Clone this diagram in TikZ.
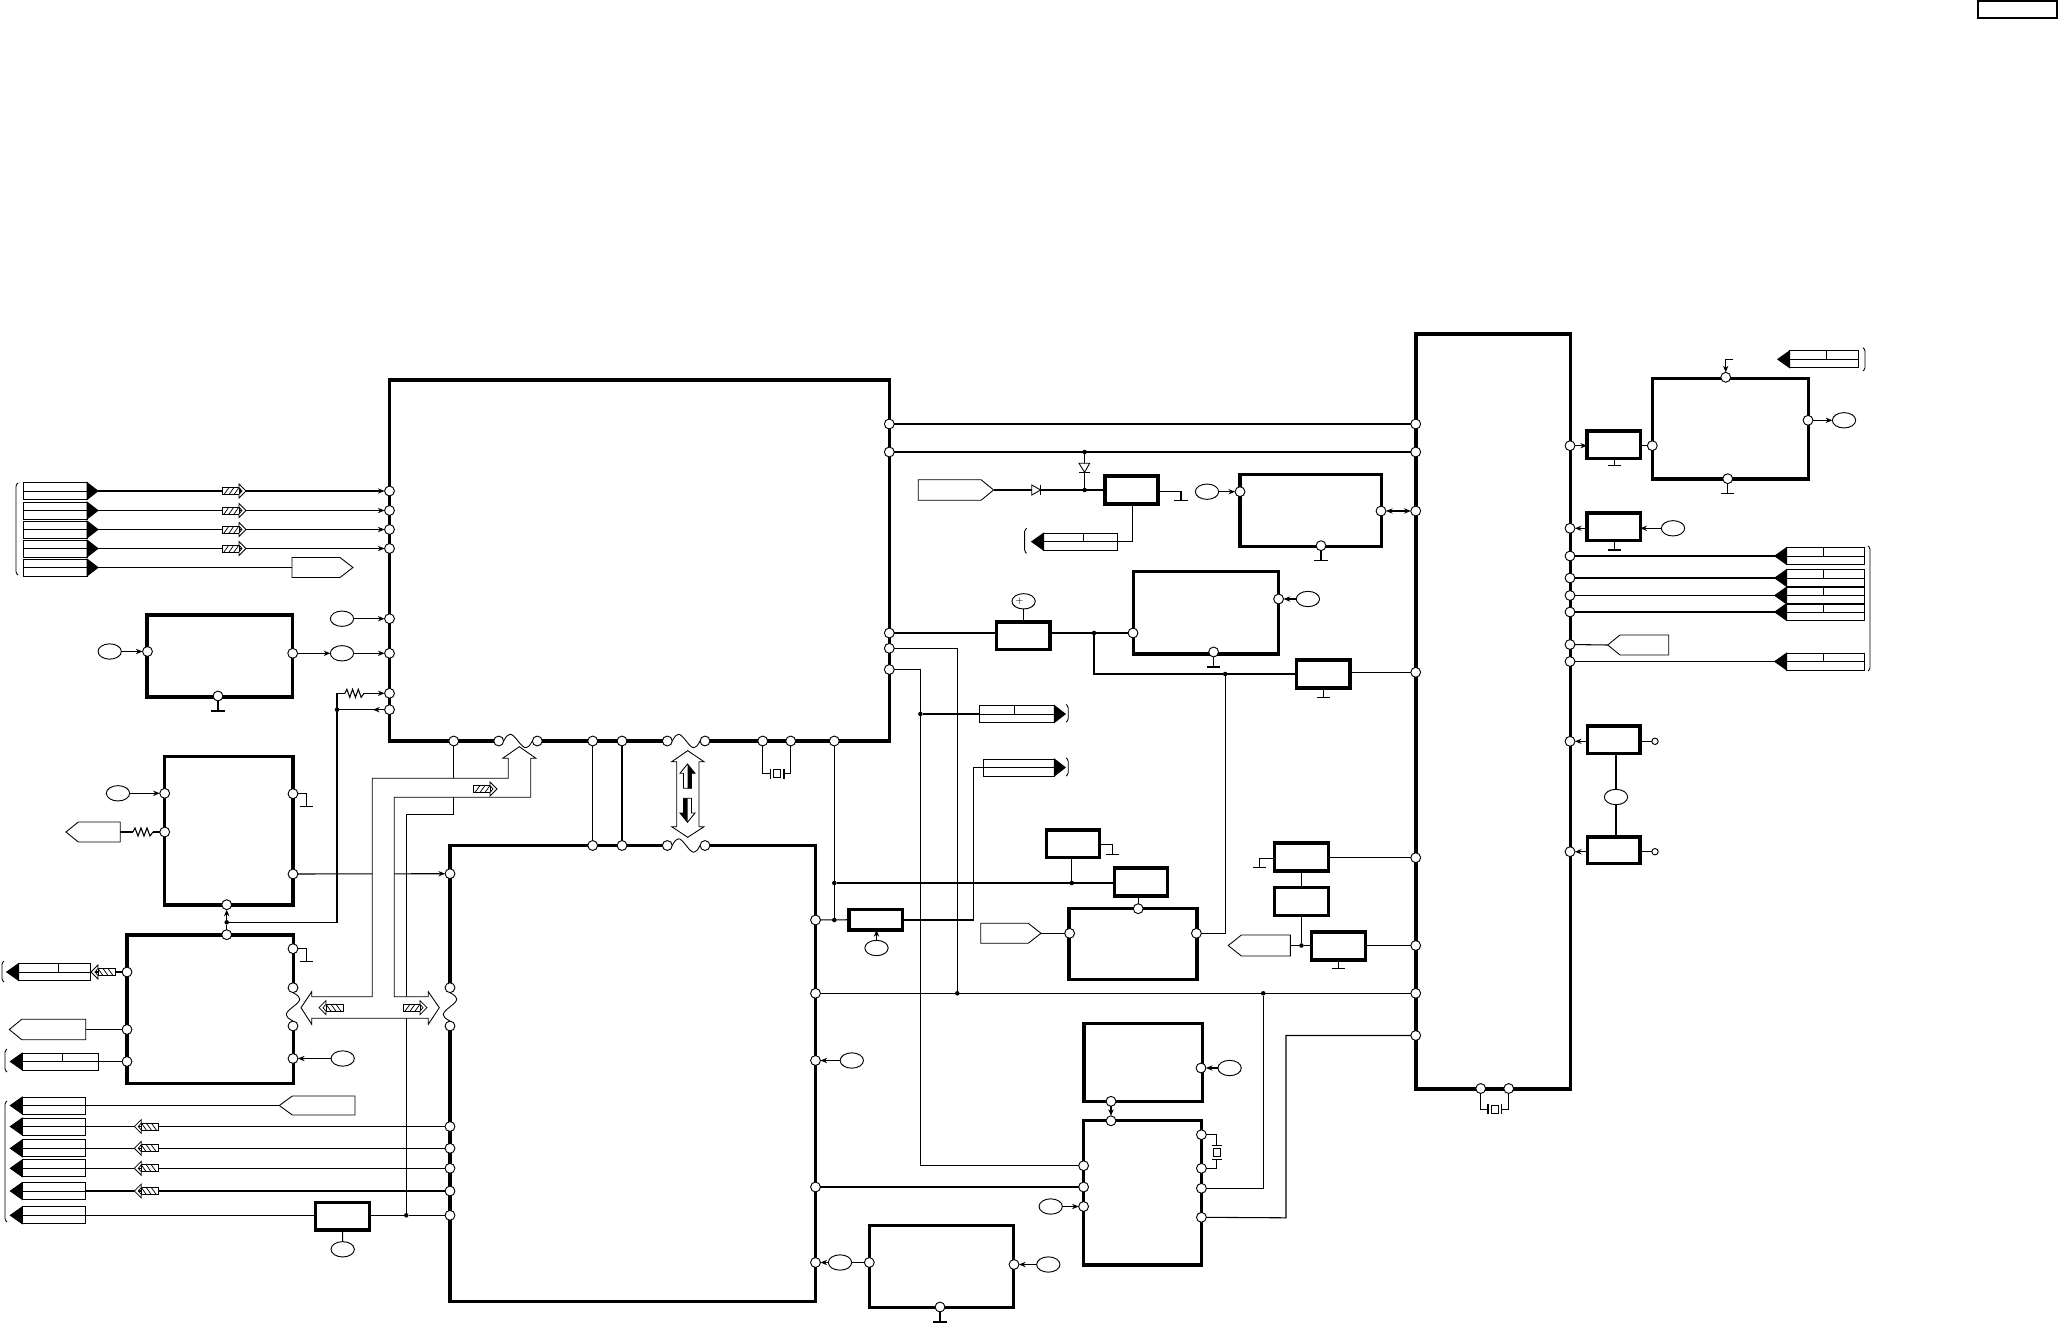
\documentclass[tikz,border=0pt]{standalone}
\usetikzlibrary{arrows.meta,shapes.geometric,calc}
\tikzset{
 bx/.style={draw,rectangle,inner sep=0pt,outer sep=0pt,line width=2.5pt},
 bxb/.style={bx,line width=2.7pt},
 blk/.style={draw,rectangle,inner sep=0pt,outer sep=0pt,line width=.7pt},
 ppin/.style={draw,circle,fill=white,inner sep=0pt,outer sep=0pt,minimum size=7.4pt,line width=.7pt},
 spin/.style={ppin,minimum size=4.8pt},
 ov/.style={draw,ellipse,fill=white,inner sep=0pt,outer sep=0pt,minimum width=17.5pt,minimum height=11.5pt,line width=.7pt},
 jn/.style={circle,fill=black,inner sep=0pt,outer sep=0pt,minimum size=3.4pt},
 arr/.style={-{Stealth[length=5pt,width=4pt]}},
 darr/.style={{Stealth[length=5pt,width=4pt]}-{Stealth[length=5pt,width=4pt]}},
 thinl/.style={line width=.65pt},
}
\newcommand\BX[6]{\pgfmathsetmacro\bw{((#5)-(#3))*0.75}\pgfmathsetmacro\bh{((#6)-(#4))*0.75}%
 \node[#1,minimum width=\bw pt,minimum height=\bh pt] (#2) at ({((#3)+(#5))/2},{((#4)+(#6))/2}) {};}
\newcommand\PN[3]{\node[ppin] (#1) at (#2,#3) {};}
\newcommand\OV[3]{\node[ov] (#1) at (#2,#3) {};}
\newcommand\JN[3]{\node[jn] (#1) at (#2,#3) {};}
% connector block, triangle on the right
\newcommand\CR[5]{\BX{blk}{#1}{#2}{#4-8.5}{#3}{#4+8.5}%
 \draw[thinl] (#1.west) -- (#1.east);
 \ifdim#5pt>0pt \draw[thinl] (#5,#4-8.5) -- (#5,#4);\fi
 \draw[fill=black,thinl] (#3,#4-8.5) -- (#3+11,#4) -- (#3,#4+8.5) -- cycle;
 \coordinate (#1T) at (#3+11,#4);}
% connector block, triangle on the left
\newcommand\CL[5]{\BX{blk}{#1}{#2}{#4-8.5}{#3}{#4+8.5}%
 \draw[thinl] (#1.west) -- (#1.east);
 \ifdim#5pt>0pt \draw[thinl] (#5,#4-8.5) -- (#5,#4);\fi
 \draw[fill=black,thinl] (#2,#4-8.5) -- (#2-12,#4) -- (#2,#4+8.5) -- cycle;
 \coordinate (#1T) at (#2-12,#4);}
% pentagon pointing right: name, back x, shoulder x, tip x, y1, y2
\newcommand\PR[6]{\draw[fill=white,thinl] (#2,#5) -- (#3,#5) -- (#4,{(#5+#6)/2}) -- (#3,#6) -- (#2,#6) -- cycle;
 \coordinate (#1T) at (#4,{(#5+#6)/2}); \coordinate (#1B) at (#2,{(#5+#6)/2});}
% brackets
\newcommand\BL[3]{\draw[thinl,rounded corners=1pt] (#1+2,#2) -- (#1,#2+2) -- (#1,#3-2) -- (#1+2,#3);}
\newcommand\BR[3]{\draw[thinl,rounded corners=1pt] (#1-2,#2) -- (#1,#2+2) -- (#1,#3-2) -- (#1-2,#3);}
% hatched arrow: start x, y, direction
\newcommand\HA[3]{\begin{scope}[shift={(#1,#2)},xscale=#3,line width=.55pt]
 \draw[fill=white] (0,-3.5) rectangle (17,3.5);
 \draw (2,3.5) -- (7,-3.5) (7,3.5) -- (12,-3.5) (12,3.5) -- (17,-3.5);
 \draw[fill=white] (17,-3.5) -- (17,-7) -- (24,0) -- (17,7) -- (17,3.5) -- (20,0) -- cycle;
 \end{scope}}
% ground: name of end coordinate, start, x, y
\newcommand\GD[4]{\coordinate (#1) at (#3,#4); \draw (#2) -- (#1);
 \draw ([xshift=-5pt]#1) -- ([xshift=5pt]#1);}
% resistor between x1,x2 at y
\newcommand\RS[3]{\draw (#1,#3) -- ({#1+.1*(#2-#1)},#3-4) -- ({#1+.25*(#2-#1)},#3+4) -- ({#1+.4*(#2-#1)},#3-4) -- ({#1+.55*(#2-#1)},#3+4) -- ({#1+.7*(#2-#1)},#3-4) -- ({#1+.85*(#2-#1)},#3+4) -- (#2,#3);}
% waves between pins
\newcommand\WH[2]{\coordinate (m#1) at ($(#1)!.5!(#2)$);
 \draw[thinl] (#1.east) .. controls +(5,-9) and +(-7,-9) .. (m#1) .. controls +(7,9) and +(-5,9) .. (#2.west);}
\newcommand\WV[2]{\coordinate (m#1) at ($(#1)!.5!(#2)$);
 \draw[thinl] (#1.south) .. controls +(9,5) and +(9,-7) .. (m#1) .. controls +(-9,7) and +(-9,-5) .. (#2.north);}
\newcommand\GAP[4]{\draw[white,line width=3.2pt] (#1,#2) -- (#3,#4);}
% horizontal-run crystal
\newcommand\XH[7]{\coordinate (#1x) at (#4,#3); \coordinate (#2x) at (#7,#3);
 \draw (#1) |- (#1x); \draw (#2) |- (#2x);
 \draw (#4,#3-5) -- (#4,#3+5) (#7,#3-5) -- (#7,#3+5);
 \draw[thinl] (#5,#3-4) rectangle (#6,#3+4);}

\begin{document}
\begin{tikzpicture}[x=0.75pt,y=-0.75pt,line width=.8pt,line join=miter]
\useasboundingbox (0,0) rectangle (2058,1323);
% top right frame
\BX{blk,line width=1.5pt}{frame}{1978}{1}{2056.5}{18}
% large boxes
\BX{bxb}{ICa}{389.5}{380}{889.5}{741}
\BX{bxb}{ICb}{450}{845.5}{815.5}{1301.5}
\BX{bxb}{ICc}{1415.7}{333.7}{1570.3}{1089}
\BX{bx}{Ba}{147}{615}{292.7}{697}
\BX{bx}{Bb}{164.5}{756.7}{293}{905}
\BX{bx}{Bc}{127}{935}{293.3}{1083.7}
\BX{bx}{Bd}{1240}{474.3}{1381.8}{546.7}
\BX{bx}{Be}{1133.2}{571.3}{1278.2}{654}
\BX{bx}{Bf}{1652.7}{378.3}{1808.7}{479}
\BX{bx}{Bg}{1069}{908.3}{1197.1}{979.7}
\BX{bx}{Bh}{1084}{1023.3}{1202.5}{1101.3}
\BX{bx}{Bi}{1083.6}{1120.3}{1201.8}{1265}
\BX{bx}{Bj}{869.3}{1225.3}{1013.7}{1307.7}
% small boxes
\BX{bx}{Sa}{1105}{476}{1157.9}{504}
\BX{bx}{Sb}{996.8}{622}{1050}{649.3}
\BX{bx}{Sc}{1296.8}{660}{1350}{688}
\BX{bx}{Sd}{1587}{431}{1640.3}{458.7}
\BX{bx}{Se}{1587}{513}{1640.3}{540.7}
\BX{bx}{Sf}{1587.3}{726}{1640}{753.3}
\BX{bx}{Sg}{1587.3}{837}{1640}{863.7}
\BX{bx}{Sh}{849}{909.5}{902.5}{930}
\BX{bx}{Si}{1046.4}{830}{1099.6}{857.7}
\BX{bx}{Sj}{1114.3}{868}{1167.5}{896}
\BX{bx}{Sk}{1274.6}{843}{1328.2}{871}
\BX{bx}{Sl}{1274.6}{887.7}{1328.2}{915.3}
\BX{bx}{Sm}{1311.8}{932}{1365.4}{960}
\BX{bx}{Sn}{315.7}{1202.7}{369.3}{1230}
% gaps in the outlines
\GAP{502}{741}{534}{741}
\GAP{671}{741}{701}{741}
\GAP{671}{845.5}{701}{845.5}
\GAP{293}{992}{293}{1022}
\GAP{450}{992}{450}{1022}
% pins of the first large box
\PN{a1}{389.5}{491}\PN{a2}{389.5}{510.5}\PN{a3}{389.5}{529.5}\PN{a4}{389.5}{548.5}
\PN{a5}{389.5}{618.7}\PN{a6}{389.5}{653.3}\PN{a7}{389.5}{693.3}\PN{a8}{389.5}{709.7}
\PN{b1}{453.7}{741}\PN{b2}{498.7}{741}\PN{b3}{537.3}{741}\PN{b4}{592.7}{741}\PN{b5}{622}{741}
\PN{b6}{667.3}{741}\PN{b7}{705}{741}\PN{b8}{762.7}{741}\PN{b9}{790.7}{741}\PN{b10}{834.3}{741}
\PN{c1}{889.3}{424}\PN{c2}{889.3}{452}\PN{c3}{889.3}{633}\PN{c4}{889.3}{648.3}\PN{c5}{889.3}{669.5}
% pins of the second large box
\PN{t1}{592.7}{845.5}\PN{t2}{622}{845.5}\PN{t3}{667.3}{845.5}\PN{t4}{705}{845.5}
\PN{d1}{450}{873.7}\PN{d2}{450}{987.7}\PN{d3}{450}{1026}\PN{d4}{450}{1126.5}\PN{d5}{450}{1148.3}
\PN{d6}{450}{1168.3}\PN{d7}{450}{1191}\PN{d8}{450}{1215.3}
\PN{e1}{815.5}{920}\PN{e2}{815.5}{993.3}\PN{e3}{815.5}{1060.5}\PN{e4}{815.5}{1187}\PN{e5}{815.5}{1262.5}
% pins of the third large box
\PN{f1}{1415.7}{424}\PN{f2}{1415.7}{452}\PN{f3}{1415.7}{511}\PN{f4}{1415.7}{672.3}
\PN{f5}{1415.7}{857.7}\PN{f6}{1415.7}{945.5}\PN{f7}{1415.7}{993.3}\PN{f8}{1415.7}{1035.5}
\PN{g1}{1570}{445.7}\PN{g2}{1570}{528.3}\PN{g3}{1570}{556}\PN{g4}{1570}{578}\PN{g5}{1570}{595.5}
\PN{g6}{1570}{612}\PN{g7}{1570}{644.5}\PN{g8}{1570}{661.5}\PN{g9}{1570}{741.3}\PN{g10}{1570}{851.7}
\PN{h1}{1480.7}{1088.5}\PN{h2}{1508.7}{1088.5}
% pins of the other boxes
\PN{ba1}{147.5}{651.5}\PN{ba2}{292.7}{653.3}\PN{ba3}{218}{696}
\PN{bb1}{164.7}{793.3}\PN{bb2}{164.7}{832}\PN{bb3}{293}{793.7}\PN{bb4}{293}{874}\PN{bb5}{226.7}{904.7}
\PN{bc1}{226.7}{934.7}\PN{bc2}{293}{948.7}\PN{bc3}{293}{987.7}\PN{bc4}{293}{1026}\PN{bc5}{293}{1058.5}
\PN{bc6}{127}{972}\PN{bc7}{127}{1029.5}\PN{bc8}{127}{1061.5}
\PN{bd1}{1240}{491.7}\PN{bd2}{1381}{511}\PN{bd3}{1321}{545.7}
\PN{be1}{1278.6}{599}\PN{be2}{1133}{633}\PN{be3}{1213.6}{652}
\PN{bf1}{1725.7}{377.3}\PN{bf2}{1808}{420.3}\PN{bf3}{1727.7}{478.7}\PN{bf4}{1652.3}{445.7}
\PN{bg1}{1138.2}{908.7}\PN{bg2}{1069.6}{933.3}\PN{bg3}{1196.4}{933.3}
\PN{bh1}{1201}{1068}\PN{bh2}{1111}{1101.3}
\PN{bi1}{1111}{1120.8}\PN{bi2}{1083.6}{1165.7}\PN{bi3}{1083.6}{1187}\PN{bi4}{1083.6}{1206.5}
\PN{bi5}{1201.4}{1134.7}\PN{bi6}{1201.4}{1168.3}\PN{bi7}{1201.4}{1188.3}\PN{bi8}{1201.4}{1217.3}
\PN{bj1}{869.3}{1262.5}\PN{bj2}{1014}{1264.5}\PN{bj3}{940}{1307}
\node[spin] (ca) at (1655,741.3) {};
\node[spin] (cb) at (1655,851.7) {};
% ovals
\OV{oa}{342}{618.7}\OV{ob}{342}{653.3}\OV{oc}{109.7}{651.5}\OV{od}{118}{793.3}\OV{oe}{342.7}{1058.5}
\OV{of}{342.7}{1249.3}\OV{og}{876.5}{948}\OV{oh}{851.8}{1060.5}\OV{oi}{840}{1262.5}\OV{oj}{1048.3}{1264.5}
\OV{ok}{1050.7}{1206.5}\OV{ol}{1229.6}{1068}\OV{om}{1207}{491.7}\OV{on}{1307.9}{599}\OV{oo}{1023.6}{601.3}
\OV{op}{1844}{420.3}\OV{oq}{1673}{528.3}\OV{or}{1616}{797}
\node[inner sep=0pt,font=\scriptsize] at (1019.5,601) {+};
% junctions
\JN{ja}{337}{709.7}\JN{jb}{226.7}{922.3}\JN{jc}{406.3}{1215.3}\JN{jd}{834.3}{883}\JN{je}{834.3}{920}
\JN{jf}{1084.6}{452}\JN{jg}{1084.6}{490}\JN{jh}{1094}{633}\JN{ji}{1225.2}{674}\JN{jj}{920.4}{714}
\JN{jk}{1071.8}{883}\JN{jl}{957.3}{993.3}\JN{jm}{1263.2}{993.3}\JN{jn}{1301.4}{945.5}
% left connector group
\BL{16}{483}{575}
\CR{ka}{23}{87}{491}{0}\CR{kb}{23}{87}{510.5}{0}\CR{kc}{23}{87}{529.5}{0}\CR{kd}{23}{87}{548.5}{0}\CR{ke}{23}{87}{567.5}{0}
\draw[arr] (kaT) -- (a1);\draw[arr] (kbT) -- (a2);\draw[arr] (kcT) -- (a3);\draw[arr] (kdT) -- (a4);
\HA{222}{491}{1}\HA{222}{510.5}{1}\HA{222}{529.5}{1}\HA{222}{548.5}{1}
\PR{pa}{292}{340}{353}{557.5}{577.5}
\draw (keT) -- (paB);
% ovals and box at left
\draw[arr] (oa) -- (a5);\draw[arr] (ob) -- (a6);\draw[arr] (ba2) -- (ob);\draw[arr] (oc) -- (ba1);
\GD{ga}{ba3}{218}{711}
% resistor and long line
\RS{345}{364}{693.3}
\coordinate (ra) at (345,693.3);\coordinate (rb) at (364,693.3);
\draw[arr] (rb) -- (a7);
\coordinate (rv) at (337,693.3);\coordinate (la) at (337,922.3);\coordinate (rw) at (373,709.7);
\draw (a8) -- (ja);
\draw[arr] (a8) -- (rw);
\draw (ra) -- (rv) -- (la) -- (jb);
\draw[arr] (jb) -- (bb5);\draw (jb) -- (bc1);
% second box
\draw[arr] (od) -- (bb1);
\PR{pb}{120.3}{78.3}{66}{822}{842}
\coordinate (rd) at (133,832);
\draw (pbB) -- (rd);\RS{133}{153}{832}\coordinate (rc) at (153,832);\draw (rc) -- (bb2);
\coordinate (gbc) at (306.7,793.7);
\GD{gb}{gbc}{306.7}{806.7}\draw (bb3) -- (gbc);
\coordinate (gcc) at (306.7,948.7);
\GD{gc}{gcc}{306.7}{961.7}\draw (bc2) -- (gcc);
% bus lines
\draw (b1) -- (b1 |- 0,778.3);
\draw[arr] (bb4) -- (d1);
\coordinate (lb) at (453.5,797.3);\coordinate (lc) at (453.5,814.3);\coordinate (ld) at (406.3,814.3);
\draw (lb) -- (lc) -- (ld) -- (jc);
% bus shape
\draw[fill=white,thinl] (508.3,758.3) -- (502.7,758.3) -- (519.3,746.7) -- (536,758.3) -- (530.7,758.3) -- (530.7,797.3) -- (394.3,797.3) -- (394.3,996.7) -- (428.3,996.7) -- (428.3,991.7) -- (439.3,1007.7) -- (428.3,1024.3) -- (428.3,1018.3) -- (311.7,1018.3) -- (311.7,1024.3) -- (301,1007.7) -- (311.7,991.7) -- (311.7,996.7) -- (372.3,996.7) -- (372.3,778.3) -- (508.3,778.3) -- cycle;
\HA{343}{1007.7}{-1}\HA{403}{1007.7}{1}\HA{473}{789}{1}
% lower left
\BL{2}{961}{982}
\CL{kf}{18.7}{90.3}{972}{58.3}
\draw (kf.east) -- (bc6);
\HA{115}{972}{-1}
\PR{pc}{85.7}{21.7}{9.3}{1019.3}{1039.7}
\draw (pcB) -- (bc7);
\BL{5}{1049}{1072}
\CL{kg}{22.3}{98.3}{1061.5}{62.3}
\draw (kg.east) -- (bc8);
\draw[arr] (oe) -- (bc5);
\BL{5}{1101}{1222}
\CL{kh}{22.3}{85.7}{1105.5}{0}
\CL{ki}{22.3}{85.7}{1126.5}{0}
\CL{kj}{22.3}{85.7}{1148.3}{0}
\CL{kk}{22.3}{85.7}{1168.3}{0}
\CL{kl}{22.3}{85.7}{1191}{0}
\CL{km}{22.3}{85.7}{1215.3}{0}
\PR{pd}{355}{292.3}{279.3}{1096}{1115}
\draw (kh.east) -- (pdT);
\draw (d4) -- (ki.east);\draw (d5) -- (kj.east);\draw (d6) -- (kk.east);\draw (d7) -- (kl.east);
\HA{158.3}{1126.5}{-1}\HA{158.3}{1148.3}{-1}\HA{158.3}{1168.3}{-1}\HA{158.3}{1191}{-1}
\draw (km.east) -- (km.east -| Sn.west);
\draw (d8) -- (jc) -- (jc -| Sn.east);
\draw (Sn.south) -- (of);
% waves
\WH{b2}{b3}\WH{b6}{b7}\WH{t3}{t4}\WV{bc3}{bc4}\WV{d2}{d3}
% links of first and second large box
\draw (b4) -- (t1);\draw (b5) -- (t2);
\draw[fill=white,thinl] (687.7,750.7) -- (704,761.7) -- (699,761.7) -- (699,826.7) -- (704,826.7) -- (687.7,837.3) -- (671.7,826.7) -- (676.7,826.7) -- (676.7,761.7) -- (671.7,761.7) -- cycle;
\draw[fill=white,thinl] (687.5,764) -- (695,773.3) -- (691.5,773.3) -- (691.5,788.3) -- (683.5,788.3) -- (683.5,773.3) -- (680,773.3) -- cycle;
\fill (687.5,764) -- (695,773.3) -- (691.5,773.3) -- (691.5,788.3) -- (687.5,788.3) -- cycle;
\draw[fill=white,thinl] (687.5,822.3) -- (695,813) -- (691.5,813) -- (691.5,798.3) -- (683.5,798.3) -- (683.5,813) -- (680,813) -- cycle;
\fill (687.5,822.3) -- (680,813) -- (683.5,813) -- (683.5,798.3) -- (687.5,798.3) -- cycle;
\XH{b8}{b9}{773.5}{770.7}{773.3}{780.7}{784}
\XH{h1}{h2}{1109.3}{1488}{1491}{1498.7}{1501.7}
\draw (b10) -- (jd) -- (je);
\draw (e1) -- (Sh.west);
\draw (jd) -- (jk) -- (Sj.west |- jk);
\draw[arr] (og) -- (Sh.south -| og);
\coordinate (ma) at (973.2,920);\coordinate (mb) at (973.2,767.5);
\CR{kn}{983.2}{1054.3}{767.5}{0}
\draw (Sh.east |- ma) -- (ma) -- (mb) -- (kn.west);
\BR{1068.2}{758}{776}
\CR{ko}{979.3}{1054.3}{714}{1014.6}
\BR{1068.2}{704.5}{722}
% upper wires
\draw (c1) -- (f1);\draw (c2) -- (f2);
\draw (jf) -- (jg);
\PR{pe}{918.2}{981}{993.6}{479.7}{500.3}
\draw (peT) -- (Sa.west |- peT);
\draw[fill=white,thinl] (1031.8,485) -- (1040.7,490) -- (1031.8,495) -- cycle;
\draw (1040.7,485) -- (1040.7,495);
\draw[fill=white,thinl] (1079,463.3) -- (1089.6,463.3) -- (1084.6,472.3) -- cycle;
\draw (1079,472.3) -- (1089.6,472.3);
\coordinate (na) at (1181,491.3);
\GD{gd}{na}{1181}{500.3}
\draw (Sa.east |- na) -- (na);
\CL{kp}{1043.6}{1117.5}{541.7}{1083.2}
\BL{1024.6}{528.3}{553.3}
\coordinate (nb) at (1132.5,541.7);
\draw (Sa.south -| nb) -- (nb) -- (kp.east);
\draw[arr] (om) -- (bd1);
\draw[darr] (bd2) -- (f3);
\GD{ge}{bd3}{1321}{560.3}
\draw[arr] (on) -- (be1);
\GD{gf}{be3}{1213.6}{667}
\draw (oo) -- (Sb.north -| oo);
\draw (c3) -- (Sb.west |- c3);
\draw (Sb.east |- jh) -- (jh) -- (be2);
\coordinate (nd) at (1094,674);
\draw (jh) -- (nd) -- (ji) -- (ji -| Sc.west);
\draw (Sc.east |- f4) -- (f4);
\GD{gg}{Sc.south -| gg}{1323.2}{697.7}
\coordinate (ne) at (957.3,648.3);
\draw (c4) -- (ne) -- (jl);
\coordinate (nf) at (920.4,669.5);\coordinate (ng) at (920.4,1165.7);
\draw (c5) -- (nf) -- (jj) -- (ng) -- (bi2);
\draw (jj) -- (ko.west);
\draw (e2) -- (f7);
\draw (e4) -- (bi3);
\draw[arr] (oi) -- (e5);\draw (oi) -- (bj1);
\draw[arr] (oj) -- (bj2);
\GD{gh}{bj3}{940}{1322}
\draw[arr] (oh) -- (e3);
\draw[arr] (ok) -- (bi4);
% middle boxes
\coordinate (oa1) at (1112.5,844.7);
\GD{gi}{oa1}{1112.5}{854.3}
\draw (Si.east |- oa1) -- (oa1);
\draw (Si.south -| jk) -- (jk);
\draw (Sj.south -| bg1) -- (bg1);
\PR{pf}{980.7}{1028.2}{1041}{923.3}{943.3}
\draw (pfT) -- (bg2);
\coordinate (pa1) at (1225.2,933.3);
\draw (bg3) -- (pa1) -- (ji);
\draw (Sk.east |- f5) -- (f5);
\coordinate (pb1) at (1259.3,858.7);
\GD{gj}{pb1}{1259.3}{867.7}
\draw (Sk.west |- pb1) -- (pb1);
\draw (Sk.south -| jn) -- (Sl.north -| jn);
\draw (Sl.south -| jn) -- (jn);
\PR{pg}{1290.4}{1241.4}{1228.2}{935}{956}
\draw (pgB) -- (jn) -- (Sm.west |- jn);
\draw (Sm.east |- f6) -- (f6);
\GD{gk}{Sm.south -| gk}{1338.2}{968.7}
\draw[arr] (ol) -- (bh1);
\draw[arr] (bh2) -- (bi1);
% crystal at the right of the lower box
\coordinate (qa) at (1216.8,1145.3);\coordinate (qb) at (1216.8,1159.3);
\draw (bi5) -| (qa);\draw (bi6) -| (qb);
\draw (1212,1145.3) -- (1221.6,1145.3) (1212,1159.3) -- (1221.6,1159.3);
\draw[thinl] (1213,1148.3) rectangle (1220.6,1156.7);
\coordinate (qc) at (1263.2,1188.3);
\draw (bi7) -- (qc) -- (jm);
\coordinate (qd) at (1286,1217.8);\coordinate (qe) at (1286,1035.5);
\draw (bi8) -- (qd) -- (qe) -- (f8);
% right column
\draw[arr] (g1) -- (Sd.west |- g1);
\draw (Sd.east |- bf4) -- (bf4);
\GD{gl}{Sd.south -| gl}{1614.3}{465.7}
\coordinate (sa) at (1733.3,359.3);
\draw[arr] (sa) -| (bf1);
\draw[arr] (bf2) -- (op);
\GD{gm}{bf3}{1727.7}{493.3}
\CL{kq}{1789.7}{1858.3}{359.3}{1826.7}
\BR{1865}{347.7}{371}
\draw[arr] (Se.west |- g2) -- (g2);
\draw[arr] (oq) -- (Se.east |- oq);
\GD{gn}{Se.south -| gn}{1614.3}{550}
\CL{kr}{1786.7}{1864.3}{556}{1823.3}
\CL{ks}{1786.7}{1864.3}{578}{1823.3}
\CL{kt}{1786.7}{1864.3}{595.5}{1823.3}
\CL{ku}{1786.7}{1864.3}{612}{1823.3}
\CL{kv}{1786.7}{1864.3}{661.5}{1823.3}
\draw (g3) -- (krT);\draw (g4) -- (ksT);\draw (g5) -- (ktT);\draw (g6) -- (kuT);\draw (g8) -- (kvT);
\BR{1870}{546}{671}
\PR{ph}{1668.7}{1620}{1607.7}{635}{655}
\draw (g7) -- (phT);
\draw[arr] (Sf.west |- g9) -- (g9);
\draw[arr] (Sg.west |- g10) -- (g10);
\draw (Sf.east |- ca) -- (ca);
\draw (Sg.east |- cb) -- (cb);
\draw (Sf.south -| or) -- (or);
\draw (or) -- (Sg.north -| or);
\end{tikzpicture}
\end{document}
